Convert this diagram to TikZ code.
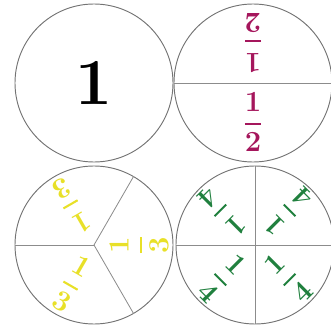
\documentclass[tikz,border=0pt]{standalone}
\usepackage{amsmath}
\usetikzlibrary{positioning}

\definecolor{halfred}{RGB}{165,22,92}
\definecolor{thirdyel}{RGB}{232,224,40}
\definecolor{quartgrn}{RGB}{32,128,62}
\newcommand{\frc}[2]{$\displaystyle\genfrac{}{}{1.8pt}{0}{\mathbf{#1}}{\mathbf{#2}}$}

\begin{document}
\begin{tikzpicture}[
  x=0.03cm, y=0.03cm,
  disc/.style={draw=black!55, line width=0.8pt, circle, minimum size=4.74cm, inner sep=0pt},
  divide/.style={draw=black!45, line width=0.7pt},
  frac/.style={inner sep=0pt, font=\fontsize{26}{30}\selectfont},
  whole/.style={font=\fontsize{56}{60}\selectfont\bfseries}
]
\useasboundingbox (0,0) rectangle (331,331);
\node[disc] (one) at (94,248) {};
\node[disc] (halves) at (253,248) {};
\node[disc] (thirds) at (94,86) {};
\node[disc] (quarters) at (255,86) {};
% one whole
\node[whole] (w1) at (one.center) {1};
% halves
\draw[divide] (halves.west) -- (halves.east);
\node[frac, text=halfred, rotate=180] (h1) at ([shift={(90:40)}]halves.center) {\frc{1}{2}};
\node[frac, text=halfred] (h2) at ([shift={(-90:39)}]halves.center) {\frc{1}{2}};
% thirds
\draw[divide] (thirds.center) -- (thirds.180);
\draw[divide] (thirds.center) -- (thirds.60);
\draw[divide] (thirds.center) -- (thirds.-60);
\node[frac, text=thirdyel, rotate=90] (t1) at ([shift={(0:45)}]thirds.center) {\frc{1}{3}};
\node[frac, text=thirdyel, rotate=210] (t2) at ([shift={(120:45)}]thirds.center) {\frc{1}{3}};
\node[frac, text=thirdyel, rotate=330] (t3) at ([shift={(240:45)}]thirds.center) {\frc{1}{3}};
% quarters
\draw[divide] (quarters.north) -- (quarters.south);
\draw[divide] (quarters.west) -- (quarters.east);
\foreach \a/\r in {45/135,135/225,225/315,315/45} {
  \node[frac, text=quartgrn, rotate=\r] (q\a) at ([shift={(\a:47)}]quarters.center) {\frc{1}{4}};
}
\end{tikzpicture}
\end{document}
